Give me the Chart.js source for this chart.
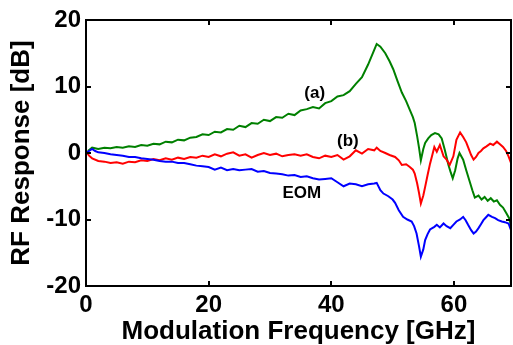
<!DOCTYPE html>
<html>
<head>
<meta charset="utf-8">
<script src="https://cdn.jsdelivr.net/npm/chart.js@4.4.0/dist/chart.umd.min.js"></script>
<style>
  html, body { margin: 0; padding: 0; background: #ffffff; }
  canvas { display: block; }
</style>
</head>
<body>
<canvas id="c" width="513" height="345"></canvas>
<script>
// ---- data ----
const freqA = [0.3,1,2,3,4,5,6,7,8,9,10,11,12,13,14,15,16,17,18,19,20,21,22,23,24,25,26,27,28,29,30,31,32,33,34,35,36,37,38,39,40,41,42,43,44,45,46,47,47.4,48,48.8,49.5,50.1,50.8,51.5,52.2,52.8,53.3,53.6,54.0,54.3,54.6,55.0,55.3,55.8,56.3,56.9,57.5,58.0,58.5,59.1,59.5,59.8,60.2,60.6,60.9,61.5,62.0,62.5,63.0,63.4,64.0,64.5,65.0,65.5,66.0,66.5,67.0,67.5,68.0,68.5,69.0,69.3];
const respA = [0.3,0.8,0.6,0.8,0.7,0.9,0.8,1.0,0.9,1.2,1.1,1.4,1.3,1.7,1.6,2.0,1.9,2.3,2.4,2.8,2.7,3.2,3.1,3.6,3.5,4.1,3.9,4.5,4.4,5.0,4.8,5.4,5.3,5.9,5.7,6.4,6.6,6.9,6.7,7.5,7.8,8.5,8.7,9.3,10.4,11.4,13.3,15.5,16.4,16.0,15.0,13.8,12.6,10.8,9.1,7.8,6.5,5.4,4.5,2.5,0.8,-1.1,0.6,1.5,2.2,2.7,3.0,2.8,2.2,0.5,-1.8,-3.0,-3.8,-2.6,-0.8,0.0,-1.0,-2.6,-4.1,-5.6,-6.7,-6.4,-7.0,-6.6,-7.2,-6.8,-7.3,-7.1,-7.8,-8.2,-9.0,-9.8,-11.0];

const freqB = [0,0.5,1,2,3,4,5,6,7,8,9,10,11,12,13,14,15,16,17,18,19,20,21,22,23,24,25,26,27,28,29,30,31,32,33,34,35,36,37,38,39,40,41,42,43,44,45,46,47,47.4,48,48.8,49.5,50.4,51,51.5,52.2,52.8,53.3,53.6,54.0,54.3,54.6,55.0,55.3,55.7,56.1,56.5,56.8,57.2,57.7,58.3,58.8,59.3,59.9,60.4,61.0,61.5,62.0,62.3,62.8,63.2,63.6,64.0,64.4,64.8,65.3,65.9,66.4,67.0,67.5,68.0,68.5,68.9,69.3];
const respB = [0.2,-0.4,-0.8,-1.2,-1.3,-1.5,-1.4,-1.6,-1.3,-1.4,-1.1,-1.2,-0.9,-1.1,-0.8,-1.0,-0.7,-0.9,-0.6,-0.7,-0.4,-0.6,-0.2,-0.5,-0.1,0.1,-0.4,-0.2,-0.7,-0.3,0.0,-0.3,-0.1,-0.5,-0.3,-0.2,-0.4,-0.2,-0.6,-0.8,-0.4,-0.6,-0.3,-1.0,-0.5,0.4,-0.1,0.6,0.4,0.8,0.3,0.0,-0.3,-0.6,-1.1,-1.8,-1.7,-2.1,-2.5,-3.1,-4.6,-6.0,-7.6,-6.4,-5.1,-3.3,-1.6,-0.2,0.9,0.2,1.2,-0.5,-1.0,-1.8,-0.5,2.0,3.1,2.4,1.6,0.9,-0.3,-1.0,-0.6,0.0,0.3,0.7,1.0,1.4,1.2,1.7,1.3,0.9,0.3,-0.5,-1.5];

const freqEOM = [0,0.5,1,1.5,2,3,4,5,6,7,8,9,10,11,12,13,14,15,16,17,18,19,20,21,22,23,24,25,26,27,28,29,30,31,32,33,34,35,36,37,38,39,40,41,42,43,44,45,46,47,47.4,48,48.5,49.3,50,50.4,51,51.7,52.4,53.1,53.5,53.9,54.3,54.6,55.0,55.3,55.7,56.1,56.8,57.2,57.7,58.3,58.8,59.4,59.9,60.4,61.0,61.5,61.9,62.3,62.8,63.2,63.6,64.0,64.4,64.8,65.2,65.6,66.2,66.7,67.2,67.8,68.3,68.9,69.3];
const respEOM = [0.0,0.3,0.6,0.3,0.1,0.0,-0.2,-0.3,-0.4,-0.6,-0.6,-0.8,-0.9,-1.0,-1.2,-1.3,-1.3,-1.5,-1.5,-1.7,-1.9,-2.0,-2.1,-2.5,-2.2,-2.6,-2.4,-2.6,-2.5,-2.4,-2.8,-2.7,-3.0,-3.1,-3.2,-3.4,-3.3,-3.6,-3.5,-3.8,-4.0,-3.9,-3.8,-4.4,-5.0,-4.6,-4.7,-5.0,-4.7,-4.6,-4.5,-5.6,-6.1,-6.5,-7.0,-7.5,-8.6,-9.6,-10.0,-10.3,-11.0,-12.1,-14.0,-15.6,-14.5,-13.1,-12.2,-11.5,-11.1,-10.8,-11.2,-10.6,-11.0,-11.3,-10.8,-10.3,-10.0,-9.6,-10.1,-10.8,-11.6,-12.1,-11.8,-11.3,-10.7,-10.1,-9.7,-9.3,-9.6,-9.8,-10.1,-10.3,-10.4,-10.6,-11.6];

const xTickValues = [0, 20, 40, 60];
const yTickValues = [-20, -10, 0, 10, 20];
const xRange = [0, 69.3];
const yRange = [-20, 20];

const annotTexts = ['(a)', '(b)', 'EOM'];
const annotX = [37.3, 42.7, 35.2];
const annotY = [9.0, 1.8, -6.0];

const xTitle = 'Modulation Frequency [GHz]';
const yTitle = 'RF Response [dB]';

// ---- chart ----
const FONT = "'Liberation Sans', Arial, Helvetica, sans-serif";
const pts = (xs, ys) => xs.map((x, i) => ({x: x, y: ys[i]}));

const boxPlugin = {
  id: 'box',
  afterDraw(chart) {
    const {ctx, chartArea: a, scales} = chart;
    const xs = scales.x, ys = scales.y;
    ctx.save();
    ctx.strokeStyle = '#000';
    ctx.lineWidth = 2;
    ctx.strokeRect(a.left, a.top, a.right - a.left, a.bottom - a.top);
    const tl = 5;
    ctx.beginPath();
    xTickValues.forEach(v => {
      const px = Math.round(xs.getPixelForValue(v));
      ctx.moveTo(px, a.bottom); ctx.lineTo(px, a.bottom - tl);
      ctx.moveTo(px, a.top); ctx.lineTo(px, a.top + tl);
    });
    yTickValues.forEach(v => {
      const py = Math.round(ys.getPixelForValue(v));
      ctx.moveTo(a.left, py); ctx.lineTo(a.left + tl, py);
      ctx.moveTo(a.right, py); ctx.lineTo(a.right - tl, py);
    });
    ctx.stroke();
    // annotations
    ctx.fillStyle = '#000';
    ctx.font = "bold 17px " + FONT;
    ctx.textAlign = 'center';
    ctx.textBaseline = 'middle';
    annotTexts.forEach((t, i) => {
      ctx.fillText(t, xs.getPixelForValue(annotX[i]), ys.getPixelForValue(annotY[i]));
    });
    ctx.restore();
  }
};

new Chart(document.getElementById('c'), {
  type: 'line',
  data: {
    datasets: [
      { label: '(a)', data: pts(freqA, respA), borderColor: '#008000', order: 3 },
      { label: '(b)', data: pts(freqB, respB), borderColor: '#ff0000', order: 2 },
      { label: 'EOM', data: pts(freqEOM, respEOM), borderColor: '#0000ff', order: 1 }
    ]
  },
  options: {
    responsive: false,
    animation: false,
    devicePixelRatio: 1,
    layout: { padding: { left: 0, right: 2, top: 20, bottom: 0 } },
    elements: {
      line: { borderWidth: 2, tension: 0, fill: false },
      point: { radius: 0 }
    },
    plugins: { legend: { display: false }, tooltip: { enabled: false } },
    scales: {
      x: {
        type: 'linear',
        min: xRange[0], max: xRange[1],
        afterBuildTicks: s => { s.ticks = xTickValues.map(v => ({value: v})); },
        afterFit: s => { s.height = 59; },
        grid: { display: false, drawTicks: false },
        border: { display: false },
        ticks: { color: '#000', padding: 5, maxRotation: 0, font: { family: FONT, size: 24, weight: 'bold' } },
        title: { display: true, text: xTitle, color: '#000', padding: { top: 0, bottom: 0 },
                 font: { family: FONT, size: 26, weight: 'bold', lineHeight: 1 } }
      },
      y: {
        type: 'linear',
        min: yRange[0], max: yRange[1],
        afterBuildTicks: s => { s.ticks = yTickValues.map(v => ({value: v})); },
        afterFit: s => { s.width = 86; },
        grid: { display: false, drawTicks: false },
        border: { display: false },
        ticks: { color: '#000', padding: 5, font: { family: FONT, size: 24, weight: 'bold' } },
        title: { display: true, text: yTitle, color: '#000', padding: { top: 9, bottom: 0 },
                 font: { family: FONT, size: 26, weight: 'bold', lineHeight: 1 } }
      }
    }
  },
  plugins: [boxPlugin]
});
</script>
</body>
</html>
